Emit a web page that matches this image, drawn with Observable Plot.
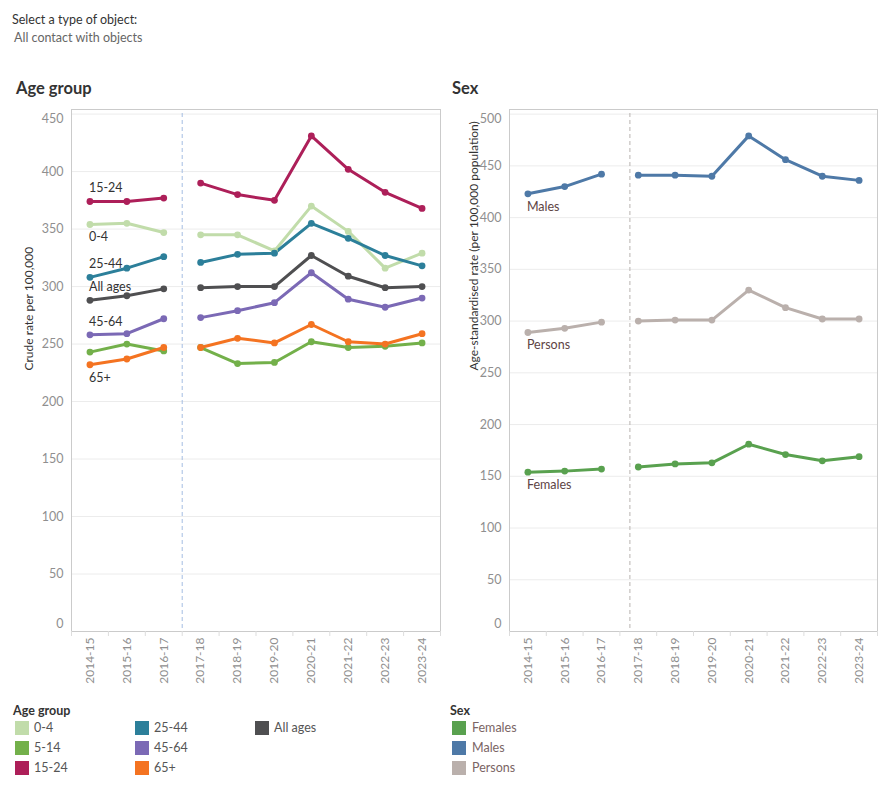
<!DOCTYPE html>
<html><head><meta charset="utf-8">
<script src="https://cdn.jsdelivr.net/npm/d3@7"></script>
<script src="https://cdn.jsdelivr.net/npm/@observablehq/plot@0.6"></script>
<style>
body{margin:0;background:#fff;font-family:Lato,"Open Sans",sans-serif;}
#root{position:relative;width:890px;height:800px;overflow:hidden;}
.abs{position:absolute;white-space:nowrap;line-height:1;}
.sw{position:absolute;width:14px;height:14px;}
.lg{position:absolute;font-size:12.5px;line-height:14px;white-space:nowrap;}
</style></head><body><div id="root"></div>
<script>
const years = ["2014-15","2015-16","2016-17","2017-18","2018-19","2019-20","2020-21","2021-22","2022-23","2023-24"];

const ageGroups = ["0-4","5-14","15-24","25-44","45-64","65+","All ages"];
const ageColors = ["#c1dcaa","#73b04a","#ad1f59","#2c7f9a","#7b69b5","#f47321","#4f4f51"];
const age_0_4   = [354, 355, 347, 345, 345, 331, 370, 348, 316, 329];
const age_5_14  = [243, 250, 244, 247, 233, 234, 252, 247, 248, 251];
const age_15_24 = [374, 374, 377, 390, 380, 375, 431, 402, 382, 368];
const age_25_44 = [308, 316, 326, 321, 328, 329, 355, 342, 327, 318];
const age_45_64 = [258, 259, 272, 273, 279, 286, 312, 289, 282, 290];
const age_65p   = [232, 237, 247, 247, 255, 251, 267, 252, 250, 259];
const age_all   = [288, 292, 298, 299, 300, 300, 327, 309, 299, 300];
const ageTicks = [0, 50, 100, 150, 200, 250, 300, 350, 400, 450];

const sexes = ["Females","Males","Persons"];
const sexColors = ["#59a14f","#4e79a7","#bab0ac"];
const sex_females = [154, 155, 157, 159, 162, 163, 181, 171, 165, 169];
const sex_males   = [423, 430, 442, 441, 441, 440, 479, 456, 440, 436];
const sex_persons = [289, 293, 299, 300, 301, 301, 330, 313, 302, 302];
const sexTicks = [0, 50, 100, 150, 200, 250, 300, 350, 400, 450, 500];

const ageSeries = [age_0_4, age_5_14, age_15_24, age_25_44, age_45_64, age_65p, age_all];
const sexSeries = [sex_females, sex_males, sex_persons];

function toRows(names, series) {
  const rows = [];
  names.forEach((g, i) => series[i].forEach((v, j) => rows.push({group: g, year: years[j], value: v, period: j < 3 ? "a" : "b"})));
  return rows;
}
const ageRows = toRows(ageGroups, ageSeries);
const sexRows = toRows(sexes, sexSeries);

const root = document.getElementById("root");
function addDiv(html, css, cls = "abs") {
  const d = document.createElement("div");
  d.className = cls; d.innerHTML = html; d.style.cssText = css; root.appendChild(d); return d;
}

addDiv("Select a type of object:", "left:12px;top:14px;font-size:12.5px;color:#333;");
addDiv("All contact with objects", "left:14px;top:32px;font-size:12.5px;color:#666;");
addDiv("Age group", "left:16px;top:80px;font-size:16.5px;font-weight:bold;color:#333;");
addDiv("Sex", "left:452px;top:80px;font-size:16.5px;font-weight:bold;color:#333;");

function chart({rows, names, colors, yMax, ticks, ml, mr, yLabel, dash, dashShift, above, below, labelFill}) {
  const W = 445, H = 600, mt = 9, mb = 69;
  const plotH = H - mt - mb;
  const step = (W - ml - mr) / years.length;
  const firsts = rows.filter(d => d.year === years[0]);
  const axisStyle = {tickSize: 0, color: "#8f8f8f", fontSize: 12.5};
  const top = ticks[ticks.length - 1];
  return Plot.plot({
    width: W, height: H, marginLeft: ml, marginRight: mr, marginTop: mt, marginBottom: mb,
    style: {fontFamily: "Lato, 'Open Sans', sans-serif", background: "transparent", overflow: "visible"},
    x: {type: "point", domain: years, padding: 0.5, round: false, label: null},
    y: {domain: [0, yMax], label: null},
    color: {domain: names, range: colors},
    marks: [
      Plot.gridY(ticks.filter(t => t > 0), {stroke: "#ececec", strokeOpacity: 1}),
      Plot.frame({stroke: "#cbcbcb"}),
      Plot.ruleX([years[3]], {dx: -step / 2 + dashShift, stroke: dash, strokeDasharray: "4,3", insetTop: 4}),
      Plot.ruleX(years, {dx: -step / 2, insetTop: plotH, insetBottom: -5, stroke: "#dddddd"}),
      Plot.ruleX([years[years.length - 1]], {dx: step / 2, insetTop: plotH, insetBottom: -5, stroke: "#dddddd"}),
      Plot.axisX({...axisStyle, tickRotate: -90, tickPadding: 6, fontSize: 12, label: null}),
      Plot.axisY({...axisStyle, ticks: ticks.filter(t => t > 0 && t < top), tickPadding: 8, label: null}),
      Plot.axisY({...axisStyle, ticks: [0], tickPadding: 8, dy: -8, label: null}),
      Plot.axisY({...axisStyle, ticks: [top], tickPadding: 8, dy: 4.5, label: null}),
      Plot.text([yLabel], {frameAnchor: "left", rotate: -90, dx: -(ml - 29), fontSize: 12, fill: "#333"}),
      Plot.line(rows, {x: "year", y: "value", stroke: "group", z: d => d.group + d.period, strokeWidth: 3}),
      Plot.dot(rows, {x: "year", y: "value", fill: "group", r: 3.4}),
      Plot.text(firsts.filter(d => above.has(d.group)), {x: "year", y: "value", text: "group", textAnchor: "start", dx: -1, dy: -13, fontSize: 12.5, fill: labelFill}),
      Plot.text(firsts.filter(d => below.has(d.group)), {x: "year", y: "value", text: "group", textAnchor: "start", dx: -1, dy: 13, fontSize: 12.5, fill: labelFill})
    ]
  });
}

const left = chart({rows: ageRows, names: ageGroups, colors: ageColors, yMax: 454, ticks: ageTicks, ml: 71, mr: 5,
  yLabel: "Crude rate per 100,000", dash: "#a4bde2", dashShift: 0,
  above: new Set(["15-24","25-44","All ages","45-64"]), below: new Set(["0-4","65+"]), labelFill: "#333"});
left.style.position = "absolute"; left.style.left = "0px"; left.style.top = "100px";
root.appendChild(left);

const right = chart({rows: sexRows, names: sexes, colors: sexColors, yMax: 504.5, ticks: sexTicks, ml: 64, mr: 13,
  yLabel: "Age-standardised rate (per 100,000 population)", dash: "#b9b3b0", dashShift: 10,
  above: new Set([]), below: new Set(sexes), labelFill: "#5e4444"});
right.style.position = "absolute"; right.style.left = "445px"; right.style.top = "100px";
root.appendChild(right);

// legends
addDiv("Age group", "left:13px;top:705px;font-size:12.5px;font-weight:bold;color:#333;");
const cols = [[15, 34], [135, 154], [255, 274]];
ageGroups.forEach((g, i) => {
  const c = Math.floor(i / 3), r = i % 3;
  const [sx, tx] = cols[c];
  const y = 721 + r * 20;
  addDiv("", `left:${sx}px;top:${y}px;background:${ageColors[i]};`, "sw");
  addDiv(g, `left:${tx}px;top:${y}px;color:#555;`, "lg");
});
addDiv("Sex", "left:450px;top:705px;font-size:12.5px;font-weight:bold;color:#333;");
sexes.forEach((g, i) => {
  const y = 721 + i * 20;
  addDiv("", `left:452px;top:${y}px;background:${sexColors[i]};`, "sw");
  addDiv(g, `left:472px;top:${y}px;color:#7a6464;`, "lg");
});
</script></body></html>
